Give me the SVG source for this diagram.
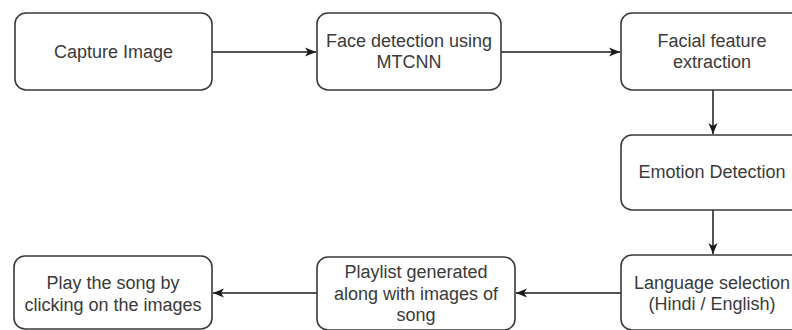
<svg xmlns="http://www.w3.org/2000/svg" width="792" height="330" viewBox="0 0 792 330">
<defs>
<style>
.box{fill:#fff;stroke:#3a3a3a;stroke-width:1.6}
.lbl{font-family:"Liberation Sans",Arial,sans-serif;font-size:18px;fill:#3a3a3a;text-anchor:middle;dominant-baseline:central}
.edge{fill:none;stroke:#1a1a1a;stroke-width:1.5}
</style>
<marker id="arr" markerUnits="userSpaceOnUse" markerWidth="12" markerHeight="10" refX="11" refY="5" orient="auto">
<path d="M0,0.5 L11,5 L0,9.5 L3,5 Z" fill="#1a1a1a"/>
</marker>
</defs>
<rect width="792" height="330" fill="#fff"/>
<g id="connectors">
<line class="edge" x1="212" y1="52" x2="316" y2="52" marker-end="url(#arr)"/>
<line class="edge" x1="501" y1="52" x2="620" y2="52" marker-end="url(#arr)"/>
<line class="edge" x1="713" y1="90" x2="713" y2="134" marker-end="url(#arr)"/>
<line class="edge" x1="713" y1="210" x2="713" y2="254" marker-end="url(#arr)"/>
<line class="edge" x1="622" y1="293" x2="516" y2="293" marker-end="url(#arr)"/>
<line class="edge" x1="317" y1="293" x2="213" y2="293" marker-end="url(#arr)"/>
</g>
<g id="capture">
<rect class="box" x="15" y="13" width="197" height="77" rx="11"/>
<text class="lbl" x="113.5" y="52">Capture Image</text>
</g>
<g id="face">
<rect class="box" x="317" y="13" width="184" height="77" rx="11"/>
<text class="lbl" x="409" y="41">Face detection using</text>
<text class="lbl" x="409" y="62">MTCNN</text>
</g>
<g id="feature">
<rect class="box" x="621" y="13" width="183" height="77" rx="11"/>
<text class="lbl" x="712" y="41">Facial feature</text>
<text class="lbl" x="712" y="62">extraction</text>
</g>
<g id="emotion">
<rect class="box" x="621" y="135" width="183" height="75" rx="11"/>
<text class="lbl" x="712" y="172">Emotion Detection</text>
</g>
<g id="language">
<rect class="box" x="621" y="255" width="183" height="75" rx="11"/>
<text class="lbl" x="712" y="283">Language selection</text>
<text class="lbl" x="712" y="304">(Hindi / English)</text>
</g>
<g id="playlist">
<rect class="box" x="317" y="257" width="198" height="73" rx="11"/>
<text class="lbl" x="416" y="272">Playlist generated</text>
<text class="lbl" x="416" y="293.5">along with images of</text>
<text class="lbl" x="416" y="315">song</text>
</g>
<g id="play">
<rect class="box" x="14" y="256" width="198" height="73" rx="11"/>
<text class="lbl" x="113" y="283">Play the song by</text>
<text class="lbl" x="113" y="305">clicking on the images</text>
</g>
</svg>
